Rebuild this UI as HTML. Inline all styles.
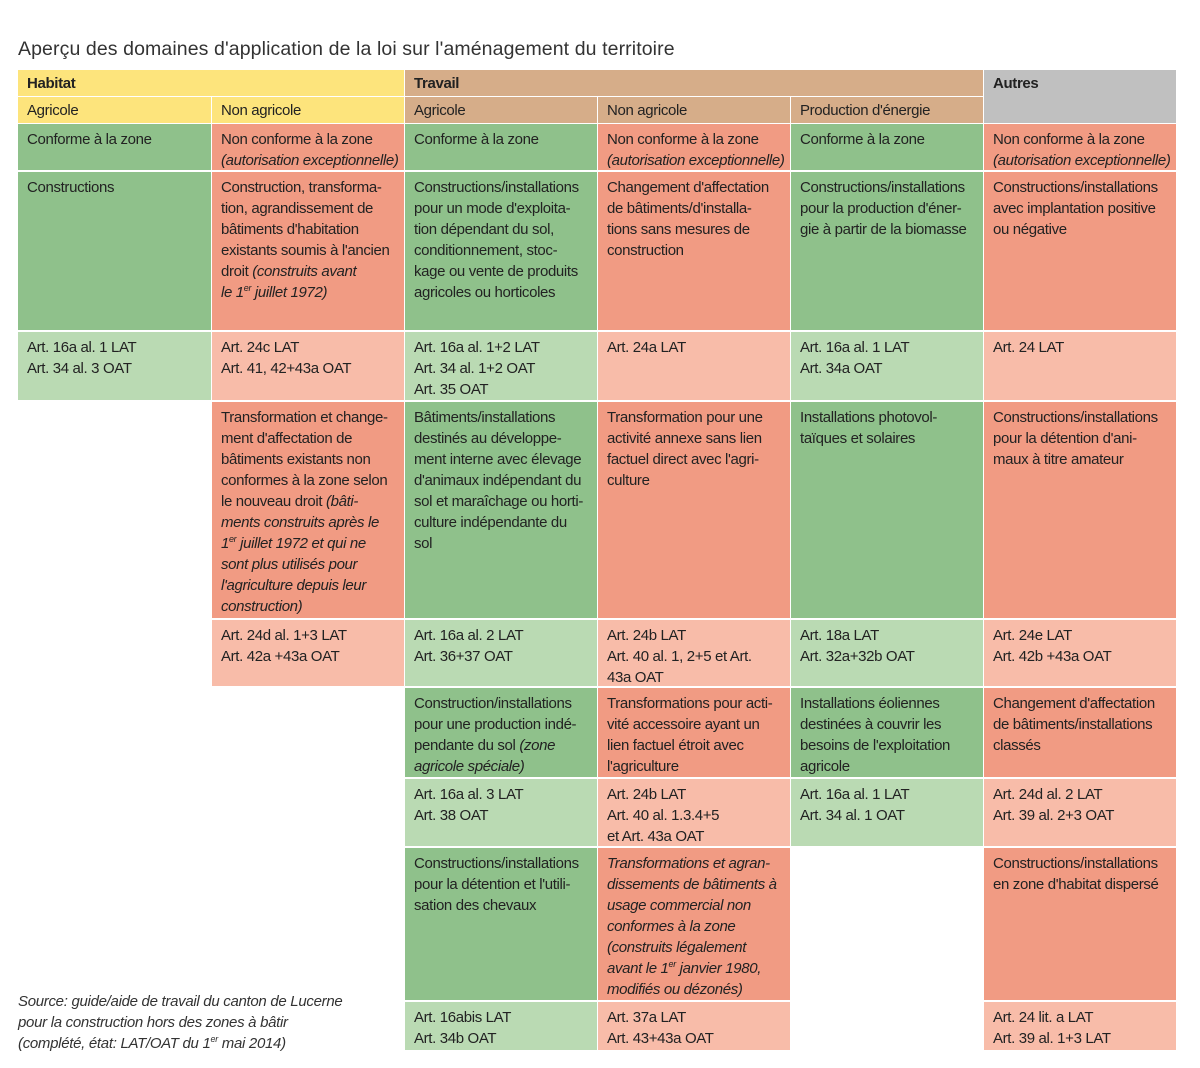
<!DOCTYPE html>
<html><head><meta charset="utf-8"><style>
body{margin:0;width:1200px;height:1068px;background:#fff;position:relative;font-family:"Liberation Sans",sans-serif;color:#222;}
.c{position:absolute;box-sizing:border-box;padding:5px 0 0 9px;font-size:15px;line-height:21px;white-space:nowrap;letter-spacing:-0.35px;overflow:hidden}
.y{background:#fde47c}.t{background:#d6ad89}.g{background:#c0c0c0}
.G{background:#8fc18b}.R{background:#f19b83}.lg{background:#badab3}.lr{background:#f8bca9}
b{font-weight:bold}
sup{font-size:9px;line-height:0}
.title{position:absolute;left:18px;top:38px;font-size:19.5px;color:#333;letter-spacing:0.1px}
.src{position:absolute;left:18px;top:991px;font-size:15px;line-height:21px;font-style:italic;color:#333;letter-spacing:-0.3px}
</style></head><body>
<div class="title">Aperçu des domaines d'application de la loi sur l'aménagement du territoire</div>

<div class="c y" style="left:18px;top:70px;width:386px;height:26px;padding-top:3px"><b>Habitat</b></div>
<div class="c t" style="left:405px;top:70px;width:578px;height:26px;padding-top:3px"><b>Travail</b></div>
<div class="c g" style="left:984px;top:70px;width:192px;height:53px;padding-top:3px"><b>Autres</b></div>

<div class="c y" style="left:18px;top:97px;width:193px;height:26px;padding-top:3px">Agricole</div>
<div class="c y" style="left:212px;top:97px;width:192px;height:26px;padding-top:3px">Non agricole</div>
<div class="c t" style="left:405px;top:97px;width:192px;height:26px;padding-top:3px">Agricole</div>
<div class="c t" style="left:598px;top:97px;width:192px;height:26px;padding-top:3px">Non agricole</div>
<div class="c t" style="left:791px;top:97px;width:192px;height:26px;padding-top:3px">Production d'énergie</div>

<div class="c G" style="left:18px;top:124px;width:193px;height:46px">Conforme à la zone</div>
<div class="c R" style="left:212px;top:124px;width:192px;height:46px">Non conforme à la zone<br><i>(autorisation exceptionnelle)</i></div>
<div class="c G" style="left:405px;top:124px;width:192px;height:46px">Conforme à la zone</div>
<div class="c R" style="left:598px;top:124px;width:192px;height:46px">Non conforme à la zone<br><i>(autorisation exceptionnelle)</i></div>
<div class="c G" style="left:791px;top:124px;width:192px;height:46px">Conforme à la zone</div>
<div class="c R" style="left:984px;top:124px;width:192px;height:46px">Non conforme à la zone<br><i>(autorisation exceptionnelle)</i></div>

<div class="c G" style="left:18px;top:172px;width:193px;height:158px">Constructions</div>
<div class="c R" style="left:212px;top:172px;width:192px;height:158px">Construction, transforma-<br>tion, agrandissement de<br>bâtiments d'habitation<br>existants soumis à l'ancien<br>droit <i>(construits avant<br>le 1<sup>er</sup> juillet 1972)</i></div>
<div class="c G" style="left:405px;top:172px;width:192px;height:158px">Constructions/installations<br>pour un mode d'exploita-<br>tion dépendant du sol,<br>conditionnement, stoc-<br>kage ou vente de produits<br>agricoles ou horticoles</div>
<div class="c R" style="left:598px;top:172px;width:192px;height:158px">Changement d'affectation<br>de bâtiments/d'installa-<br>tions sans mesures de<br>construction</div>
<div class="c G" style="left:791px;top:172px;width:192px;height:158px">Constructions/installations<br>pour la production d'éner-<br>gie à partir de la biomasse</div>
<div class="c R" style="left:984px;top:172px;width:192px;height:158px">Constructions/installations<br>avec implantation positive<br>ou négative</div>

<div class="c lg" style="left:18px;top:332px;width:193px;height:68px">Art. 16a al. 1 LAT<br>Art. 34 al. 3 OAT</div>
<div class="c lr" style="left:212px;top:332px;width:192px;height:68px">Art. 24c LAT<br>Art. 41, 42+43a OAT</div>
<div class="c lg" style="left:405px;top:332px;width:192px;height:68px">Art. 16a al. 1+2 LAT<br>Art. 34 al. 1+2 OAT<br>Art. 35 OAT</div>
<div class="c lr" style="left:598px;top:332px;width:192px;height:68px">Art. 24a LAT</div>
<div class="c lg" style="left:791px;top:332px;width:192px;height:68px">Art. 16a al. 1 LAT<br>Art. 34a OAT</div>
<div class="c lr" style="left:984px;top:332px;width:192px;height:68px">Art. 24 LAT</div>

<div class="c R" style="left:212px;top:402px;width:192px;height:216px">Transformation et change-<br>ment d'affectation de<br>bâtiments existants non<br>conformes à la zone selon<br>le nouveau droit <i>(bâti-<br>ments construits après le<br>1<sup>er</sup> juillet 1972 et qui ne<br>sont plus utilisés pour<br>l'agriculture depuis leur<br>construction)</i></div>
<div class="c G" style="left:405px;top:402px;width:192px;height:216px">Bâtiments/installations<br>destinés au développe-<br>ment interne avec élevage<br>d'animaux indépendant du<br>sol et maraîchage ou horti-<br>culture indépendante du<br>sol</div>
<div class="c R" style="left:598px;top:402px;width:192px;height:216px">Transformation pour une<br>activité annexe sans lien<br>factuel direct avec l'agri-<br>culture</div>
<div class="c G" style="left:791px;top:402px;width:192px;height:216px">Installations photovol-<br>taïques et solaires</div>
<div class="c R" style="left:984px;top:402px;width:192px;height:216px">Constructions/installations<br>pour la détention d'ani-<br>maux à titre amateur</div>

<div class="c lr" style="left:212px;top:620px;width:192px;height:66px">Art. 24d al. 1+3 LAT<br>Art. 42a +43a OAT</div>
<div class="c lg" style="left:405px;top:620px;width:192px;height:66px">Art. 16a al. 2 LAT<br>Art. 36+37 OAT</div>
<div class="c lr" style="left:598px;top:620px;width:192px;height:66px">Art. 24b LAT<br>Art. 40 al. 1, 2+5 et Art.<br>43a OAT</div>
<div class="c lg" style="left:791px;top:620px;width:192px;height:66px">Art. 18a LAT<br>Art. 32a+32b OAT</div>
<div class="c lr" style="left:984px;top:620px;width:192px;height:66px">Art. 24e LAT<br>Art. 42b +43a OAT</div>

<div class="c G" style="left:405px;top:688px;width:192px;height:89px">Construction/installations<br>pour une production indé-<br>pendante du sol <i>(zone<br>agricole spéciale)</i></div>
<div class="c R" style="left:598px;top:688px;width:192px;height:89px">Transformations pour acti-<br>vité accessoire ayant un<br>lien factuel étroit avec<br>l'agriculture</div>
<div class="c G" style="left:791px;top:688px;width:192px;height:89px">Installations éoliennes<br>destinées à couvrir les<br>besoins de l'exploitation<br>agricole</div>
<div class="c R" style="left:984px;top:688px;width:192px;height:89px">Changement d'affectation<br>de bâtiments/installations<br>classés</div>

<div class="c lg" style="left:405px;top:779px;width:192px;height:67px">Art. 16a al. 3 LAT<br>Art. 38 OAT</div>
<div class="c lr" style="left:598px;top:779px;width:192px;height:67px">Art. 24b LAT<br>Art. 40 al. 1.3.4+5<br>et Art. 43a OAT</div>
<div class="c lg" style="left:791px;top:779px;width:192px;height:67px">Art. 16a al. 1 LAT<br>Art. 34 al. 1 OAT</div>
<div class="c lr" style="left:984px;top:779px;width:192px;height:67px">Art. 24d al. 2 LAT<br>Art. 39 al. 2+3 OAT</div>

<div class="c G" style="left:405px;top:848px;width:192px;height:152px">Constructions/installations<br>pour la détention et l'utili-<br>sation des chevaux</div>
<div class="c R" style="left:598px;top:848px;width:192px;height:152px"><i>Transformations et agran-<br>dissements de bâtiments à<br>usage commercial non<br>conformes à la zone<br>(construits légalement<br>avant le 1<sup>er</sup> janvier 1980,<br>modifiés ou dézonés)</i></div>
<div class="c R" style="left:984px;top:848px;width:192px;height:152px">Constructions/installations<br>en zone d'habitat dispersé</div>

<div class="c lg" style="left:405px;top:1002px;width:192px;height:48px">Art. 16abis LAT<br>Art. 34b OAT</div>
<div class="c lr" style="left:598px;top:1002px;width:192px;height:48px">Art. 37a LAT<br>Art. 43+43a OAT</div>
<div class="c lr" style="left:984px;top:1002px;width:192px;height:48px">Art. 24 lit. a LAT<br>Art. 39 al. 1+3 LAT</div>

<div class="src">Source: guide/aide de travail du canton de Lucerne<br>pour la construction hors des zones à bâtir<br>(complété, état: LAT/OAT du 1<sup>er</sup> mai 2014)</div>
</body></html>
